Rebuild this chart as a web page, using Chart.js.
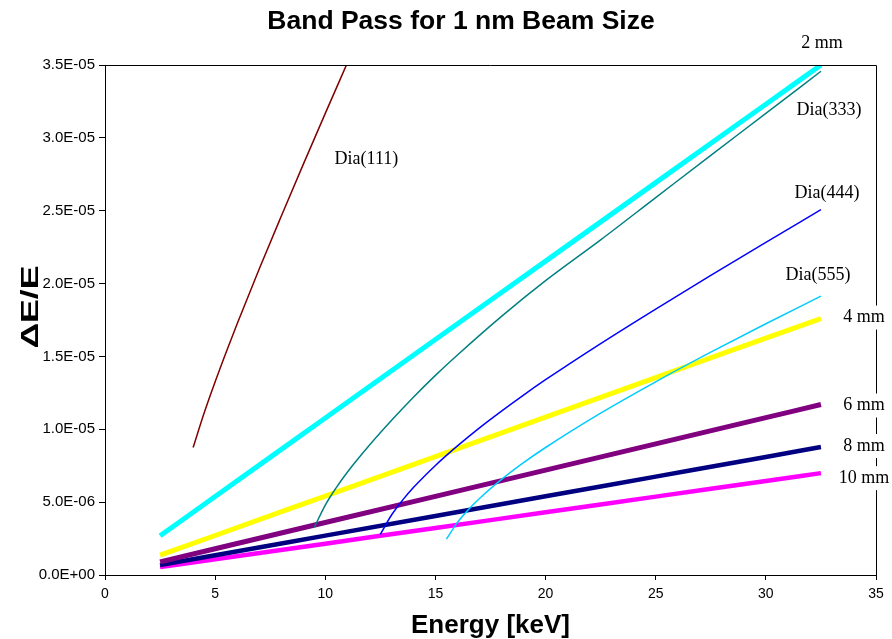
<!DOCTYPE html>
<html>
<head>
<meta charset="utf-8">
<title>Band Pass for 1 nm Beam Size</title>
<script src="https://cdn.jsdelivr.net/npm/chart.js@4.4.1/dist/chart.umd.min.js"></script>
<style>
  html, body { margin: 0; padding: 0; background: #fff; }
</style>
</head>
<body>
<canvas id="chart" width="892" height="639"></canvas>
<script>
// energies [keV] shared by the beam-size lines
const beamEnergy = [2.5, 5, 10, 15, 20, 25, 30, 32.5];

// dE/E for each beam size
const beam2mm  = [2.69e-6, 5.39e-6, 1.077e-5, 1.616e-5, 2.154e-5, 2.693e-5, 3.231e-5, 3.50e-5];
const beam4mm  = [1.36e-6, 2.71e-6, 5.42e-6, 8.13e-6, 1.084e-5, 1.355e-5, 1.626e-5, 1.76e-5];
const beam6mm  = [9.0e-7, 1.8e-6, 3.6e-6, 5.4e-6, 7.2e-6, 9.0e-6, 1.08e-5, 1.17e-5];
const beam8mm  = [6.8e-7, 1.35e-6, 2.7e-6, 4.05e-6, 5.4e-6, 6.75e-6, 8.1e-6, 8.78e-6];
const beam10mm = [5.4e-7, 1.08e-6, 2.15e-6, 3.23e-6, 4.3e-6, 5.38e-6, 6.45e-6, 6.99e-6];

// diamond reflections
const dia111Energy = [4.0, 4.5, 5.0, 5.5, 6.0, 7.0, 8.0, 9.0, 10.0, 10.96];
const dia111 = [8.75e-6, 1.111e-5, 1.326e-5, 1.529e-5, 1.724e-5, 2.100e-5, 2.462e-5, 2.818e-5, 3.168e-5, 3.50e-5];

const dia333Energy = [9.5, 10, 10.5, 11, 12, 13, 14, 15, 16, 18, 20, 22.5, 25, 27.5, 30, 32.5];
const dia333 = [3.27e-6, 4.8e-6, 6.0e-6, 7.05e-6, 8.9e-6, 1.06e-5, 1.22e-5, 1.37e-5, 1.51e-5, 1.775e-5, 2.02e-5, 2.30e-5, 2.59e-5, 2.88e-5, 3.168e-5, 3.457e-5];

const dia444Energy = [12.5, 13, 13.5, 14, 15, 16, 17, 18, 19, 20, 22.5, 25, 27.5, 30, 32.5];
const dia444 = [2.79e-6, 4.1e-6, 5.12e-6, 6.0e-6, 7.52e-6, 8.86e-6, 1.01e-5, 1.125e-5, 1.235e-5, 1.34e-5, 1.588e-5, 1.825e-5, 2.056e-5, 2.282e-5, 2.507e-5];

const dia555Energy = [15.5, 16, 16.5, 17, 18, 19, 20, 22.5, 25, 27.5, 30, 32.5];
const dia555 = [2.46e-6, 3.61e-6, 4.49e-6, 5.25e-6, 6.56e-6, 7.71e-6, 8.75e-6, 1.111e-5, 1.326e-5, 1.529e-5, 1.724e-5, 1.914e-5];

// axis ticks
const yTicks = [0, 5e-6, 1e-5, 1.5e-5, 2e-5, 2.5e-5, 3e-5, 3.5e-5];
const xTicks = [0, 5, 10, 15, 20, 25, 30, 35];

function toPoints(xs, ys) {
    return xs.map((x, i) => ({ x: x, y: ys[i] }));
}

function sci(v) {
    if (Math.abs(v) < 1e-12) return '0.0E+00';
    const parts = v.toExponential(1).split('e');
    const n = parseInt(parts[1], 10);
    return parts[0] + 'E' + (n < 0 ? '-' : '+') + String(Math.abs(n)).padStart(2, '0');
}

// thin curves first so they end up on top of the thick beam lines
const series = [
    { label: 'Dia(111)', xs: dia111Energy, ys: dia111, color: '#800000', width: 1.5 },
    { label: 'Dia(333)', xs: dia333Energy, ys: dia333, color: '#008080', width: 1.5 },
    { label: 'Dia(444)', xs: dia444Energy, ys: dia444, color: '#0000FF', width: 1.5 },
    { label: 'Dia(555)', xs: dia555Energy, ys: dia555, color: '#00CCFF', width: 1.5 },
    { label: '2 mm',  xs: beamEnergy, ys: beam2mm,  color: '#00FFFF', width: 5 },
    { label: '4 mm',  xs: beamEnergy, ys: beam4mm,  color: '#FFFF00', width: 5 },
    { label: '6 mm',  xs: beamEnergy, ys: beam6mm,  color: '#800080', width: 5 },
    { label: '8 mm',  xs: beamEnergy, ys: beam8mm,  color: '#000080', width: 4.5 },
    { label: '10 mm', xs: beamEnergy, ys: beam10mm, color: '#FF00FF', width: 4.5 }
];

// where each series name sits, relative to the last point of the curve
const nameOffsets = {
    'Dia(111)': { dx: 20, dy: 94 },
    'Dia(333)': { dx: 8, dy: 39 },
    'Dia(444)': { dx: 6, dy: -16 },
    'Dia(555)': { dx: -3, dy: -21 },
    '2 mm':  { dx: 1, dy: -22 },
    '4 mm':  { dx: 43, dy: -1, boxed: true },
    '6 mm':  { dx: 43, dy: 1, boxed: true },
    '8 mm':  { dx: 43, dy: -1, boxed: true },
    '10 mm': { dx: 43, dy: 5, boxed: true }
};

const decorations = {
    id: 'decorations',
    afterDraw(chart) {
        const ctx = chart.ctx;
        const area = chart.chartArea;

        ctx.save();
        // plot frame: top and right edges
        ctx.strokeStyle = '#000';
        ctx.lineWidth = 1;
        ctx.beginPath();
        ctx.moveTo(area.left, area.top + 0.5);
        ctx.lineTo(area.right + 0.5, area.top + 0.5);
        ctx.lineTo(area.right + 0.5, area.bottom);
        ctx.stroke();

        // chart title
        ctx.fillStyle = '#000';
        ctx.font = "bold 26.5px 'Liberation Sans', Arial, sans-serif";
        ctx.textAlign = 'center';
        ctx.textBaseline = 'middle';
        ctx.fillText('Band Pass for 1 nm Beam Size', 461, 22);

        // y axis title, drawn a little wide like the original export
        ctx.save();
        ctx.translate(32, 307);
        ctx.rotate(-Math.PI / 2);
        ctx.scale(1.55, 1);
        ctx.font = "bold 23px 'Liberation Sans', Arial, sans-serif";
        ctx.fillText('ΔE/E', 0, 0);
        ctx.restore();

        // series names next to their curves
        ctx.font = "18px 'Liberation Serif', 'Times New Roman', serif";
        chart.data.datasets.forEach((ds, i) => {
            const off = nameOffsets[ds.label];
            const pts = chart.getDatasetMeta(i).data;
            const last = pts[pts.length - 1];
            const x = last.x + off.dx;
            const y = last.y + off.dy;
            if (off.boxed) {
                const w = ctx.measureText(ds.label).width;
                ctx.fillStyle = '#fff';
                ctx.fillRect(x - w / 2 - 2, y - 12, w + 4, 24);
            }
            ctx.fillStyle = '#000';
            ctx.fillText(ds.label, x, y);
        });
        ctx.restore();
    }
};

new Chart(document.getElementById('chart').getContext('2d'), {
    type: 'line',
    data: {
        datasets: series.map(s => ({
            label: s.label,
            data: toPoints(s.xs, s.ys),
            borderColor: s.color,
            backgroundColor: s.color,
            borderWidth: s.width,
            pointRadius: 0,
            fill: false,
            cubicInterpolationMode: 'monotone',
            borderCapStyle: 'butt'
        }))
    },
    options: {
        responsive: false,
        animation: false,
        layout: { padding: { top: 65, right: 16, left: 0, bottom: 0 } },
        plugins: {
            legend: { display: false },
            tooltip: { enabled: false }
        },
        scales: {
            x: {
                type: 'linear',
                min: 0,
                max: 35,
                afterBuildTicks: (scale) => { scale.ticks = xTicks.map(v => ({ value: v })); },
                afterFit: (scale) => { scale.height = 64; },
                border: { color: '#000', width: 1 },
                grid: { drawOnChartArea: false, drawTicks: true, tickLength: 5, color: '#000' },
                ticks: {
                    color: '#000',
                    padding: 6,
                    maxRotation: 0,
                    font: { family: "'Liberation Sans', Arial, sans-serif", size: 14 }
                },
                title: {
                    display: true,
                    text: 'Energy [keV]',
                    color: '#000',
                    padding: { top: 0, bottom: 0 },
                    font: { family: "'Liberation Sans', Arial, sans-serif", size: 26, weight: 'bold', lineHeight: 1 }
                }
            },
            y: {
                type: 'linear',
                min: 0,
                max: 3.5e-5,
                afterBuildTicks: (scale) => { scale.ticks = yTicks.map(v => ({ value: v })); },
                afterFit: (scale) => { scale.width = 105; },
                border: { color: '#000', width: 1 },
                grid: { drawOnChartArea: false, drawTicks: true, tickLength: 6, color: '#000' },
                ticks: {
                    color: '#000',
                    padding: 4,
                    callback: (v) => sci(v),
                    font: { family: "'Liberation Sans', Arial, sans-serif", size: 15 }
                }
            }
        }
    },
    plugins: [decorations]
});
</script>
</body>
</html>
